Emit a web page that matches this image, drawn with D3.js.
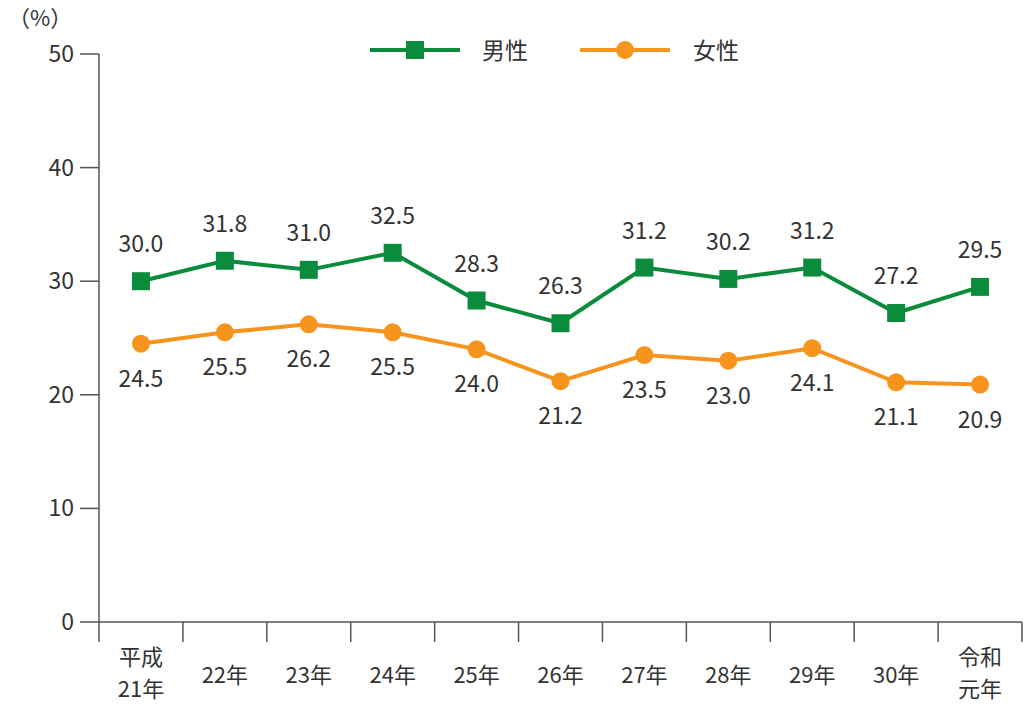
<!DOCTYPE html><html><head><meta charset="utf-8">
<script src="https://cdn.jsdelivr.net/npm/d3@7"></script>
<style>body{margin:0;background:#fff}text{font-family:"Noto Sans CJK JP","Noto Sans",sans-serif;fill:#333}</style>
</head><body><svg id="c" width="1024" height="714"></svg><script>
const categories=[["平成","21年"],["22年"],["23年"],["24年"],["25年"],["26年"],["27年"],["28年"],["29年"],["30年"],["令和","元年"]];
const male=[30.0,31.8,31.0,32.5,28.3,26.3,31.2,30.2,31.2,27.2,29.5];
const female=[24.5,25.5,26.2,25.5,24.0,21.2,23.5,23.0,24.1,21.1,20.9];
const yTicks=[0,10,20,30,40,50];
const G="#0a8c3c",O="#f7941d";
const svg=d3.select("#c");
const x=d3.scaleBand().domain(d3.range(categories.length)).range([99,1022]);
const y=d3.scaleLinear().domain([0,50]).range([622,54]);
svg.append("line").attr("x1",99).attr("x2",99).attr("y1",54).attr("y2",622).attr("stroke","#555").attr("stroke-width",1.5);
svg.append("line").attr("x1",99).attr("x2",1022).attr("y1",622).attr("y2",622).attr("stroke","#555").attr("stroke-width",1.5);
yTicks.forEach(t=>{svg.append("line").attr("x1",80).attr("x2",99).attr("y1",y(t)).attr("y2",y(t)).attr("stroke","#555").attr("stroke-width",1.5);
svg.append("text").attr("x",74).attr("y",y(t)+8).attr("text-anchor","end").attr("font-size",23).text(t);});
svg.append("text").attr("x",8).attr("y",26).attr("font-size",22).text("（%）");
d3.range(categories.length+1).forEach(i=>{const xx=i<categories.length?x(i):1022;
svg.append("line").attr("x1",xx).attr("x2",xx).attr("y1",622).attr("y2",642).attr("stroke","#555").attr("stroke-width",1.5);});
categories.forEach((c,i)=>{const cx=x(i)+x.bandwidth()/2;
c.forEach((s,j)=>svg.append("text").attr("x",cx).attr("y",c.length==1?683:665+j*32).attr("text-anchor","middle").attr("font-size",22).text(s));});
const cx=i=>x(i)+x.bandwidth()/2;
const line=d3.line().x((d,i)=>cx(i)).y(d=>y(d));
svg.append("path").attr("d",line(female)).attr("fill","none").attr("stroke",O).attr("stroke-width",4);
svg.append("path").attr("d",line(male)).attr("fill","none").attr("stroke",G).attr("stroke-width",4);
female.forEach((v,i)=>{svg.append("circle").attr("cx",cx(i)).attr("cy",y(v)).attr("r",9).attr("fill",O);
svg.append("text").attr("x",cx(i)).attr("y",y(v)+43).attr("text-anchor","middle").attr("font-size",23).text(v.toFixed(1));});
male.forEach((v,i)=>{svg.append("rect").attr("x",cx(i)-9).attr("y",y(v)-9).attr("width",18).attr("height",18).attr("fill",G);
svg.append("text").attr("x",cx(i)).attr("y",y(v)-29).attr("text-anchor","middle").attr("font-size",23).text(v.toFixed(1));});
svg.append("line").attr("x1",370).attr("x2",460).attr("y1",50).attr("y2",50).attr("stroke",G).attr("stroke-width",4);
svg.append("rect").attr("x",406).attr("y",41).attr("width",18).attr("height",18).attr("fill",G);
svg.append("text").attr("x",482).attr("y",59).attr("font-size",23).text("男性");
svg.append("line").attr("x1",580).attr("x2",670).attr("y1",50).attr("y2",50).attr("stroke",O).attr("stroke-width",4);
svg.append("circle").attr("cx",625).attr("cy",50).attr("r",9).attr("fill",O);
svg.append("text").attr("x",693).attr("y",59).attr("font-size",23).text("女性");
</script></body></html>
